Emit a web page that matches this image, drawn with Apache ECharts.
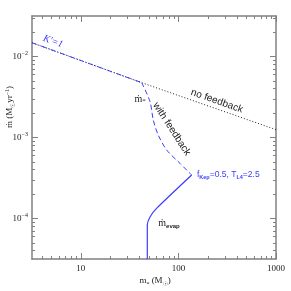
<!DOCTYPE html>
<html><head><meta charset="utf-8">
<script src="https://cdn.jsdelivr.net/npm/echarts@6/dist/echarts.min.js"></script>
<style>html,body{margin:0;padding:0;background:#fff}#c{width:291px;height:291px}</style>
</head><body><div id="c"></div>
<script>
// ---- data (real units: M_sun, M_sun/yr) ----
var noFeedbackMass = [3.16, 42.1, 1000];
var noFeedbackRate = [0.01479, 0.00475, 0.00125];
var kPrimeMass = [3.16, 42.1];
var kPrimeRate = [0.01479, 0.00475];
var withFeedbackMass = [42.1, 51.2, 55.3, 62.2, 75.9, 103.7, 136.8];
var withFeedbackRate = [4.75e-3, 2.77e-3, 1.64e-3, 1.07e-3, 7.0e-4, 4.8e-4, 3.44e-4];
var evapMass = [136.8, 60.4, 51.2, 48.0, 48.0];
var evapRate = [3.44e-4, 1.35e-4, 1.045e-4, 8.3e-5, 3.16e-5];
var xTickValues = [10, 100, 1000];
var yTickValues = [1e-2, 1e-3, 1e-4];
var xRange = [3.1623, 1000];
var yRange = [3.1623e-5, 3.1623e-2];

var L = Math.log10;
function pts(xs, ys){ return xs.map(function(x,i){ return [L(x), L(ys[i])]; }); }
function minors(lo, hi){
  var out=[];
  for (var n=-6;n<=4;n++) for (var k=2;k<=9;k++){ var v=L(k)+n; if(v>lo+1e-9 && v<hi-1e-9) out.push(v); }
  return out;
}
var xmin=L(xRange[0]), xmax=L(xRange[1]), ymin=L(yRange[0]), ymax=L(yRange[1]);
var xMaj = xTickValues.map(L), yMaj = yTickValues.map(L);
var xMin = minors(xmin,xmax), yMin = minors(ymin,ymax);
var GRAY='#808080', BLUE='#3b3bff';
var serif='"Liberation Serif","DejaVu Serif",serif';
var sans='"Liberation Sans","DejaVu Sans",sans-serif';

function xAxisDef(pos, vals, len, line, labels){
  return {type:'value', position:pos, min:xmin, max:xmax, splitLine:{show:false},
    axisLine:{show:line, onZero:false, lineStyle:{color:GRAY, width:1.5}},
    axisTick:{show:true, inside:true, length:len, customValues:vals, lineStyle:{color:GRAY,width:1}},
    axisLabel:{show:labels, customValues:xMaj, margin:5, color:'#222', fontFamily:serif, fontSize:9,
      formatter:function(v){return String(Math.round(Math.pow(10,v)));}}};
}
function yAxisDef(pos, vals, len, line, labels){
  return {type:'value', position:pos, min:ymin, max:ymax, splitLine:{show:false},
    axisLine:{show:line, onZero:false, lineStyle:{color:GRAY, width:1.5}},
    axisTick:{show:true, inside:true, length:len, customValues:vals, lineStyle:{color:GRAY,width:1}},
    axisLabel:{show:labels, customValues:yMaj, margin:4, color:'#222',
      formatter:function(v){return '{b|10}{s|\u2212'+Math.round(-v)+'}';},
      rich:{b:{fontFamily:serif,fontSize:9,lineHeight:12,verticalAlign:'middle',color:'#222'},
            s:{fontFamily:serif,fontSize:6,lineHeight:6,verticalAlign:'top',color:'#222'}}}};
}

var chart = echarts.init(document.getElementById('c'), null, {renderer:'canvas'});
chart.setOption({
  animation:false,
  backgroundColor:'#fff',
  grid:{left:32, right:15, top:16, bottom:32, containLabel:false},
  xAxis:[xAxisDef('bottom',xMaj,6,true,true), xAxisDef('bottom',xMin,3,false,false),
         xAxisDef('top',xMaj,6,true,false), xAxisDef('top',xMin,3,false,false)],
  yAxis:[yAxisDef('left',yMaj,6,true,true), yAxisDef('left',yMin,3,false,false),
         yAxisDef('right',yMaj,6,true,false), yAxisDef('right',yMin,3,false,false)],
  series:[
    {type:'line', data:pts(noFeedbackMass,noFeedbackRate), showSymbol:false, symbol:'none',
      lineStyle:{color:'#222', width:1, type:[1,2]}},
    {type:'line', data:pts(kPrimeMass,kPrimeRate), symbol:'none',
      lineStyle:{color:BLUE, width:1, type:[5,2,1,2]}},
    {type:'line', data:pts(withFeedbackMass,withFeedbackRate), symbol:'none', smooth:0.3,
      lineStyle:{color:BLUE, width:1, type:[5,3]}},
    {type:'line', data:pts(evapMass,evapRate), symbol:'none', smooth:0.2,
      lineStyle:{color:BLUE, width:1.2}}
  ]
});

function P(x,y){ return chart.convertToPixel({gridIndex:0}, [L(x), L(y)]); }
var deg=Math.PI/180;
var g=[];
var p;
p=P(5.19,0.0153);
g.push({type:'text', x:p[0], y:p[1], rotation:-20*deg, style:{text:"K\u2032=1", fill:BLUE, font:'italic 10px '+serif, align:'center', verticalAlign:'middle'}});
p=P(248,2.82e-3);
g.push({type:'text', x:p[0], y:p[1], rotation:-19.5*deg, style:{text:'no feedback', fill:'#222', font:'10px '+sans, align:'center', verticalAlign:'middle'}});
p=P(85.3,1.27e-3);
g.push({type:'text', x:p[0], y:p[1], rotation:-57*deg, style:{text:'with feedback', fill:'#222', font:'10px '+sans, align:'center', verticalAlign:'middle'}});
p=P(40.5,2.99e-3);
g.push({type:'text', x:p[0], y:p[1], style:{text:'{m|\u1E41}{s|*}', align:'center', verticalAlign:'middle',
  rich:{m:{font:'10px '+serif, fill:'#222', lineHeight:12, verticalAlign:'middle'}, s:{font:'7px '+serif, fill:'#222', lineHeight:6, verticalAlign:'bottom'}}}});
p=P(62.2,8.73e-5);
g.push({type:'text', x:p[0], y:p[1], style:{text:'{m|\u1E41}{s|evap}', align:'left', verticalAlign:'middle',
  rich:{m:{font:'10px '+serif, fill:'#222', lineHeight:12, verticalAlign:'middle'}, s:{font:'bold 6px '+sans, fill:'#222', lineHeight:6, verticalAlign:'bottom'}}}});
p=P(155,3.44e-4);
g.push({type:'text', x:p[0], y:p[1], style:{text:'{m|f}{s|Kep}{m|=0.5, T}{s|L4}{m|=2.5}', align:'left', verticalAlign:'middle',
  rich:{m:{font:'8.5px '+sans, fill:BLUE, lineHeight:11, verticalAlign:'middle'}, s:{font:'bold 5.5px '+sans, fill:BLUE, lineHeight:5, verticalAlign:'bottom'}}}});
// axis titles
g.push({type:'text', x:10, y:107, rotation:90*deg, style:{text:'{m|\u1E41 (M}{s|\u2609}{m|yr}{u|\u22121}{m|)}', align:'center', verticalAlign:'middle',
  rich:{m:{font:'9px '+serif, fill:'#222', lineHeight:12, verticalAlign:'middle'}, s:{font:'6px '+serif, fill:'#222', lineHeight:6, verticalAlign:'bottom'}, u:{font:'6px '+serif, fill:'#222', lineHeight:6, verticalAlign:'top'}}}});
g.push({type:'text', x:155, y:281, style:{text:'{m|m}{s|*}{m| (M}{s|\u2609}{m|)}', align:'center', verticalAlign:'middle',
  rich:{m:{font:'9px '+serif, fill:'#222', lineHeight:12, verticalAlign:'middle'}, s:{font:'6px '+serif, fill:'#222', lineHeight:6, verticalAlign:'bottom'}}}});
chart.setOption({graphic:g});
</script></body></html>
